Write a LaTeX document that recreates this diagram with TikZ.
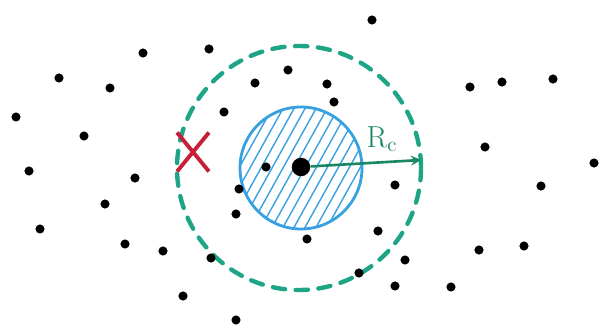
\documentclass[tikz,border=0pt]{standalone}
\usepackage{amsmath}
\usepackage{xcolor}
\usepackage{tikz}
\usetikzlibrary{shapes.misc}

\definecolor{ringc}{RGB}{30,165,135}
\definecolor{arrowc}{RGB}{25,135,100}
\definecolor{discc}{RGB}{55,160,225}
\definecolor{markc}{RGB}{200,30,55}

\tikzset{
  dot/.style={circle,fill=black,inner sep=0pt,minimum size=5.2pt},
  bigdot/.style={circle,fill=black,inner sep=0pt,minimum size=10.5pt},
  ring/.style={ringc,line width=2.5pt,dash pattern=on 7pt off 6pt,line cap=round},
  radiusarrow/.style={arrowc,line width=1.5pt,-stealth}
}

\begin{document}
\begin{tikzpicture}[x=0.02cm,y=-0.02cm]
\useasboundingbox (0,0) rectangle (603,328);
% hatched disc
\begin{scope}
\clip (301,168) circle (61);
\foreach \k in {-150,-139,...,150}
  \draw[discc,line width=0.8pt] (301+\k-40,240) -- (301+\k+40,96);
\end{scope}
\draw[discc,line width=1.6pt] (301,168) circle (61);
% dashed ring
\draw[ring] (299,168) circle (122);
% scattered points
\foreach \x/\y [count=\i] in {143/53,59/78,110/88,16/117,84/136,29/171,135/178,
  105/204,40/229,125/244,163/251,183/296,236/320,209/49,288/70,255/83,327/84,
  334/102,224/112,372/20,266/167,239/189,236/214,307/239,211/258,395/185,
  378/231,405/260,359/273,395/286,451/287,470/87,502/82,553/79,485/147,
  594/163,541/186,479/250,524/246}
  \node[dot] (p\i) at (\x,\y) {};
\node[bigdot] (c) at (301,167) {};
\coordinate (rc) at (421,160);
\draw[radiusarrow] (c) -- (rc);
\node[arrowc] (rlabel) at (382,139) {\LARGE $\mathrm{R}_{\mathrm{c}}$};
\node[cross out,draw=markc,line width=2.2pt,minimum width=16pt,minimum height=20pt] (mark) at (193,152) {};
\end{tikzpicture}
\end{document}
